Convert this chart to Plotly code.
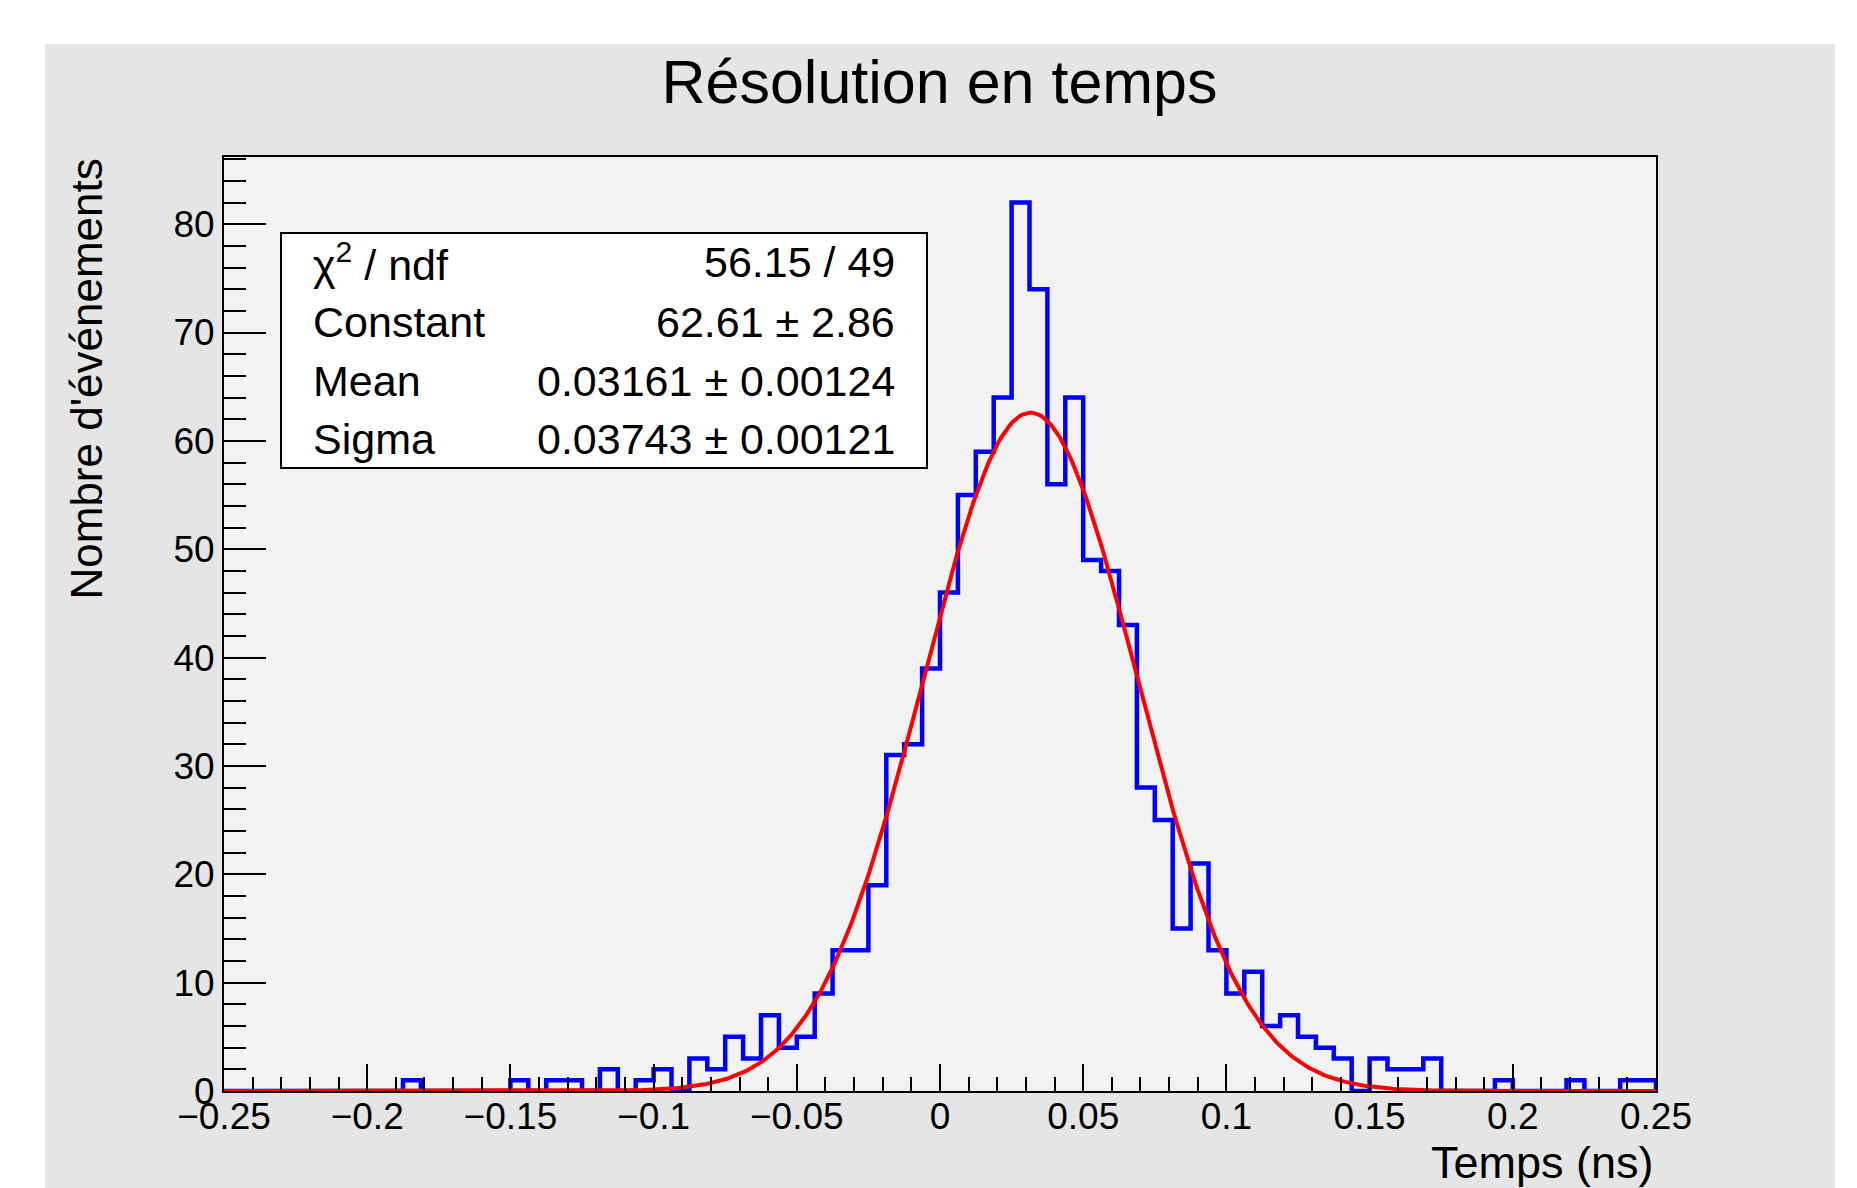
import numpy as np
import plotly.graph_objects as go

# ---------------- data ----------------
x_min, x_max, n_bins = -0.25, 0.25, 80
counts = [0, 0, 0, 0, 0, 0, 0, 0, 0, 0,
          1, 0, 0, 0, 0, 0, 1, 0, 1, 1,
          0, 2, 0, 1, 2, 0, 3, 2, 5, 3,
          7, 4, 5, 9, 13, 13, 19, 31, 32, 39,
          46, 55, 59, 64, 82, 74, 56, 64, 49, 48,
          43, 28, 25, 15, 21, 13, 9, 11, 6, 7,
          5, 4, 3, 0, 3, 2, 2, 3, 0, 0,
          0, 1, 0, 0, 0, 1, 0, 0, 1, 1]

x_tickvals = [-0.25, -0.2, -0.15, -0.1, -0.05, 0, 0.05, 0.1, 0.15, 0.2, 0.25]
x_ticktext = ["\u22120.25", "\u22120.2", "\u22120.15", "\u22120.1", "\u22120.05",
              "0", "0.05", "0.1", "0.15", "0.2", "0.25"]
y_tickvals = [0, 10, 20, 30, 40, 50, 60, 70, 80]
y_ticktext = ["0", "10", "20", "30", "40", "50", "60", "70", "80"]

fit_names = ["\u03c7<sup>2</sup> / ndf", "Constant", "Mean", "Sigma"]
chi2, ndf = 56.15, 49
const, const_err = 62.61, 2.86
mean, mean_err = 0.03161, 0.00124
sigma, sigma_err = 0.03743, 0.00121
fit_values = [f"{chi2:.2f} / {ndf}",
              f"{const:.2f} \u00b1 {const_err:.2f}",
              f"{mean:.5f} \u00b1 {mean_err:.5f}",
              f"{sigma:.5f} \u00b1 {sigma_err:.5f}"]

title_text = "Résolution en temps"
x_title = "Temps (ns)"
y_title = "Nombre d'événements"

# ---------------- derived ----------------
edges = np.linspace(x_min, x_max, n_bins + 1)
hx = [edges[0]] + list(edges[:-1]) + [edges[-1]]
hy = [0] + list(counts) + [0]

xf = np.linspace(x_min, x_max, 600)
yf = const * np.exp(-0.5 * ((xf - mean) / sigma) ** 2)

FONT = "Liberation Sans, Arial, Helvetica, sans-serif"

fig = go.Figure()
fig.add_trace(go.Scatter(x=hx, y=hy, mode="lines", line=dict(color="#0000ff", width=4.5, shape="hv"),
                         hoverinfo="skip", showlegend=False))
fig.add_trace(go.Scatter(x=xf, y=yf, mode="lines", line=dict(color="#ff0000", width=4),
                         hoverinfo="skip", showlegend=False))

OFF = 8  # page body margin
W, H = 1857 - OFF, 1188 - OFF
L, T = 224 - OFF, 157 - OFF
R = W - (1656 - OFF)
B = H - (1091 - OFF)
pw, ph = W - L - R, H - T - B

def px(x):  # x in reference (screen) pixels
    return (x - OFF - L) / pw

def py(y):  # y in reference (screen) pixels
    return (H - B - (y - OFF)) / ph

shapes = [
    dict(type="rect", xref="paper", yref="paper", x0=px(OFF), x1=px(1857), y0=py(44), y1=py(OFF),
         fillcolor="white", line=dict(width=0), layer="below"),
    dict(type="rect", xref="paper", yref="paper", x0=px(OFF), x1=px(45), y0=py(1188), y1=py(OFF),
         fillcolor="white", line=dict(width=0), layer="below"),
    dict(type="rect", xref="paper", yref="paper", x0=px(1835), x1=px(1857), y0=py(1188), y1=py(OFF),
         fillcolor="white", line=dict(width=0), layer="below"),
    # stats box
    dict(type="rect", xref="paper", yref="paper", x0=px(281), x1=px(927), y0=py(468), y1=py(233),
         fillcolor="white", line=dict(color="black", width=2), layer="above"),
]

annotations = []
row_y = [262, 322, 381, 439]
for name, val, yy in zip(fit_names, fit_values, row_y):
    annotations.append(dict(text=name, xref="paper", yref="paper", x=px(311), y=py(yy),
                            xanchor="left", yanchor="middle", showarrow=False,
                            font=dict(family=FONT, size=43, color="black")))
    annotations.append(dict(text=val, xref="paper", yref="paper", x=px(897), y=py(yy),
                            xanchor="right", yanchor="middle", showarrow=False,
                            font=dict(family=FONT, size=43, color="black")))

annotations.append(dict(text=x_title, xref="paper", yref="paper", x=1.0, y=py(1162),
                        xanchor="right", yanchor="middle", showarrow=False,
                        font=dict(family=FONT, size=45, color="black")))
annotations.append(dict(text=y_title, xref="paper", yref="paper", x=px(86), y=1.0,
                        xanchor="center", yanchor="top", textangle=-90, showarrow=False,
                        font=dict(family=FONT, size=44, color="black")))

fig.update_layout(
    width=W, height=H,
    margin=dict(l=L, r=R, t=T, b=B, pad=0),
    paper_bgcolor="#e5e5e5",
    plot_bgcolor="#f2f2f2",
    title=dict(text=title_text, x=(939.5 - OFF) / W, xref="container",
               y=1 - (82 - OFF) / H, yref="container",
               xanchor="center", yanchor="middle",
               font=dict(family=FONT, size=61, color="black")),
    shapes=shapes,
    annotations=annotations,
    showlegend=False,
)

fig.update_xaxes(
    range=[x_min, x_max], tickvals=x_tickvals, ticktext=x_ticktext,
    ticks="inside", ticklen=27, tickwidth=2, tickcolor="black",
    minor=dict(dtick=0.01, tick0=x_min, ticks="inside", ticklen=14, tickwidth=2, tickcolor="black", showgrid=False),
    showline=True, linecolor="black", linewidth=2, mirror=True,
    showgrid=False, zeroline=False,
    tickfont=dict(family=FONT, size=37, color="black"),
)
try:
    fig.update_xaxes(ticklabelstandoff=-8)
except Exception:
    pass
fig.update_yaxes(
    range=[0, 86.2], tickvals=y_tickvals, ticktext=y_ticktext,
    ticks="inside", ticklen=42, tickwidth=2, tickcolor="black",
    minor=dict(dtick=2, tick0=0, ticks="inside", ticklen=22, tickwidth=2, tickcolor="black", showgrid=False),
    showline=True, linecolor="black", linewidth=2, mirror=True,
    showgrid=False, zeroline=False,
    tickfont=dict(family=FONT, size=37, color="black"),
)

fig.write_html("out.html")
